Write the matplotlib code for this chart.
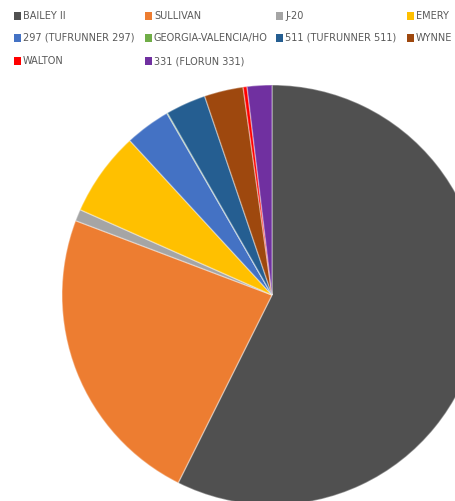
import matplotlib.pyplot as plt
from matplotlib.patches import Rectangle

labels = ["BAILEY II", "SULLIVAN", "J-20", "EMERY",
          "297 (TUFRUNNER 297)", "GEORGIA-VALENCIA/HO", "511 (TUFRUNNER 511)", "WYNNE",
          "WALTON", "331 (FLORUN 331)"]
shares = [57.4, 23.4, 0.9, 6.5, 3.5, 0.05, 3.1, 3.0, 0.3, 1.9]
colors = ["#505050", "#ED7D31", "#A5A5A5", "#FFC000",
          "#4472C4", "#70AD47", "#255E91", "#9E480E",
          "#FF0000", "#7030A0"]

W, H = 456, 501
fig = plt.figure(figsize=(W / 100, H / 100), dpi=100)

# pie centre and radius in pixels, pie runs past the right and bottom edge
cx, cy, r = 272, 295, 210
ax = fig.add_axes([(cx - r) / W, (H - cy - r) / H, 2 * r / W, 2 * r / H])
ax.pie(shares, colors=colors, startangle=90, counterclock=False,
       wedgeprops=dict(edgecolor=(1, 1, 1, 0.35), linewidth=1.0))
ax.set_xlim(-1, 1)
ax.set_ylim(-1, 1)
ax.axis("off")

# legend laid out like the spreadsheet one: 4 equal columns
col_x = [14, 145, 276, 407]
row_y = [16, 38, 61]
for i, (lab, col) in enumerate(zip(labels, colors)):
    x = col_x[i % 4]
    y = row_y[i // 4]
    fig.patches.append(Rectangle((x / W, (H - y - 3.5) / H), 7 / W, 7 / H,
                                 transform=fig.transFigure, facecolor=col,
                                 edgecolor="none"))
    fig.text((x + 9) / W, (H - y) / H, lab, fontsize=7, color="#595959",
             family="Liberation Sans Narrow", va="center", ha="left")

fig.savefig("out.png", dpi=100)
